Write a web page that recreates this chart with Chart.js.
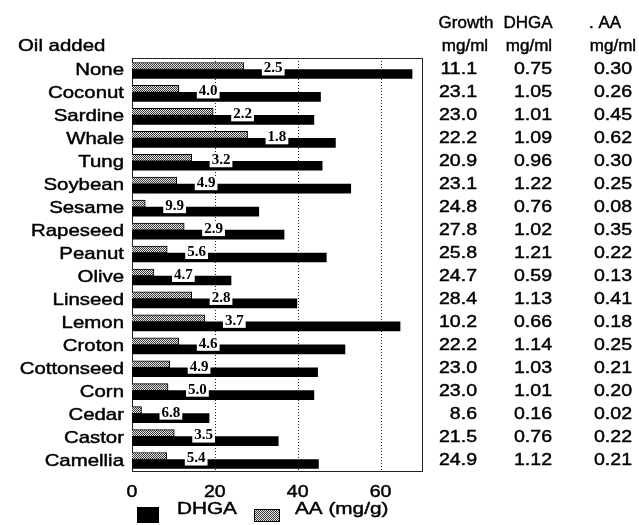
<!DOCTYPE html>
<html>
<head>
<meta charset="utf-8">
<script src="https://cdn.jsdelivr.net/npm/chart.js@4/dist/chart.umd.min.js"></script>
<style>
  html, body { margin: 0; padding: 0; background: #fff; }
</style>
</head>
<body>
<canvas id="oilChart" width="639" height="525"></canvas>
<script>
const oils = ["None", "Coconut", "Sardine", "Whale", "Tung", "Soybean", "Sesame", "Rapeseed", "Peanut",
  "Olive", "Linseed", "Lemon", "Croton", "Cottonseed", "Corn", "Cedar", "Castor", "Camellia"];

// bar lengths, mg per g of mycelium
const dhgaContent = [67.6, 45.5, 43.9, 49.1, 45.9, 52.8, 30.6, 36.7, 46.9, 23.9, 39.8, 64.7, 51.4, 44.8, 43.9, 18.6, 35.3, 45.0];
const aaContent = [27.0, 11.3, 19.6, 27.9, 14.4, 10.8, 3.2, 12.6, 8.5, 5.3, 14.4, 17.6, 11.3, 9.1, 8.7, 2.3, 10.2, 8.4];

// DHGA / AA ratio printed on the bars
const ratioLabels = ["2.5", "4.0", "2.2", "1.8", "3.2", "4.9", "9.9", "2.9", "5.6", "4.7", "2.8", "3.7", "4.6", "4.9", "5.0", "6.8", "3.5", "5.4"];

// table on the right
const growthMl = ["11.1", "23.1", "23.0", "22.2", "20.9", "23.1", "24.8", "27.8", "25.8", "24.7", "28.4", "10.2", "22.2", "23.0", "23.0", "8.6", "21.5", "24.9"];
const dhgaMl = ["0.75", "1.05", "1.01", "1.09", "0.96", "1.22", "0.76", "1.02", "1.21", "0.59", "1.13", "0.66", "1.14", "1.03", "1.01", "0.16", "0.76", "1.12"];
const aaMl = ["0.30", "0.26", "0.45", "0.62", "0.30", "0.25", "0.08", "0.35", "0.22", "0.13", "0.41", "0.18", "0.25", "0.21", "0.20", "0.02", "0.22", "0.21"];

const xTicks = [0, 20, 40, 60];

const FONT = '17px "Liberation Sans", Arial, sans-serif';

document.addEventListener("DOMContentLoaded", function () {
  createOilChart();
});

// helvetica-ish text, a little wide and heavy like the scanned original
function drawText(ctx, str, x, y, align, stretch) {
  ctx.save();
  ctx.translate(x, y);
  ctx.scale(stretch || 1, 1);
  ctx.textAlign = align;
  ctx.textBaseline = "alphabetic";
  ctx.lineWidth = 0.45;
  ctx.strokeStyle = "#000";
  ctx.fillText(str, 0, 0);
  ctx.strokeText(str, 0, 0);
  ctx.restore();
}

function makeStipple(ctx) {
  const c = document.createElement("canvas");
  c.width = 2;
  c.height = 2;
  const g = c.getContext("2d");
  g.fillStyle = "#e6e6e6";
  g.fillRect(0, 0, 2, 2);
  g.fillStyle = "#3a3a3a";
  g.fillRect(0, 0, 1, 1);
  g.fillRect(1, 1, 1, 1);
  return ctx.createPattern(c, "repeat");
}

const framePlugin = {
  id: "frame",
  beforeDatasetsDraw(chart) {
    const { ctx, chartArea: a, scales } = chart;
    ctx.save();
    ctx.strokeStyle = "#222";
    ctx.lineWidth = 1;
    ctx.setLineDash([1, 2]);
    xTicks.forEach((v) => {
      if (v === 0) return;
      const x = Math.round(scales.x.getPixelForValue(v)) + 0.5;
      ctx.beginPath();
      ctx.moveTo(x, a.top);
      ctx.lineTo(x, a.bottom);
      ctx.stroke();
    });
    ctx.setLineDash([]);
    ctx.strokeRect(Math.round(a.left) + 0.5, Math.round(a.top) + 0.5,
      Math.round(a.right - a.left), Math.round(a.bottom - a.top));
    ctx.restore();
  },
  afterDatasetsDraw(chart) {
    const ctx = chart.ctx;
    const aaMeta = chart.getDatasetMeta(0);
    ctx.save();
    ctx.font = 'bold 15px "Liberation Serif", "Times New Roman", serif';
    ctx.textBaseline = "middle";
    ctx.textAlign = "left";
    aaMeta.data.forEach((bar, i) => {
      const txt = ratioLabels[i];
      const w = ctx.measureText(txt).width;
      const x = bar.x + 20;
      const yb = bar.y + bar.height / 2;
      ctx.fillStyle = "#fff";
      ctx.fillRect(x - 2, yb - 8, w + 4, 14);
      ctx.fillStyle = "#000";
      ctx.fillText(txt, x, yb - 1);
    });
    ctx.restore();
  },
  afterDraw(chart) {
    const { ctx, scales } = chart;
    ctx.save();
    ctx.fillStyle = "#000";
    ctx.font = FONT;

    // headers
    drawText(ctx, "Oil added", 18, 51, "left", 1.2);
    drawText(ctx, "Growth", 466, 28, "center");
    drawText(ctx, "mg/ml", 465, 51, "center");
    drawText(ctx, "DHGA", 528, 28, "center");
    drawText(ctx, "mg/ml", 529, 51, "center");
    drawText(ctx, ". AA", 605, 28, "center");
    drawText(ctx, "mg/ml", 613, 51, "center");

    // category names and table rows
    oils.forEach((name, i) => {
      const y = scales.y.getPixelForValue(i);
      drawText(ctx, name, 124, y + 6, "right", 1.2);
      drawText(ctx, growthMl[i], 477, y + 5, "right", 1.15);
      drawText(ctx, dhgaMl[i], 552, y + 5, "right", 1.15);
      drawText(ctx, aaMl[i], 632, y + 5, "right", 1.15);
    });

    // x tick labels
    xTicks.forEach((v) => {
      drawText(ctx, String(v), scales.x.getPixelForValue(v), 497, "center", 1.15);
    });

    // legend
    ctx.fillStyle = "#000";
    ctx.fillRect(137, 507, 22, 16);
    drawText(ctx, "DHGA", 177, 514, "left", 1.22);
    ctx.fillStyle = chart.data.datasets[0].backgroundColor;
    ctx.fillRect(254, 509, 26, 13);
    ctx.strokeStyle = "#000";
    ctx.lineWidth = 1;
    ctx.strokeRect(254.5, 509.5, 25, 12);
    ctx.fillStyle = "#000";
    drawText(ctx, "AA (mg/g)", 295, 514, "left", 1.22);
    ctx.restore();
  },
};

function createOilChart() {
  const ctx = document.getElementById("oilChart").getContext("2d");
  new Chart(ctx, {
    type: "bar",
    data: {
      labels: oils,
      datasets: [
        {
          label: "AA (mg/g)",
          data: aaContent,
          backgroundColor: makeStipple(ctx),
          borderColor: "#000",
          borderWidth: 1,
          barThickness: 7,
        },
        {
          label: "DHGA",
          data: dhgaContent,
          backgroundColor: "#000",
          barThickness: 9,
        },
      ],
    },
    options: {
      indexAxis: "y",
      responsive: false,
      animation: false,
      layout: {
        padding: { left: 132, right: 217, top: 58, bottom: 54 },
      },
      scales: {
        x: { display: false, min: 0, max: 70 },
        y: { display: false },
      },
      plugins: {
        legend: { display: false },
        tooltip: { enabled: false },
      },
    },
    plugins: [framePlugin],
  });
}
</script>
</body>
</html>
